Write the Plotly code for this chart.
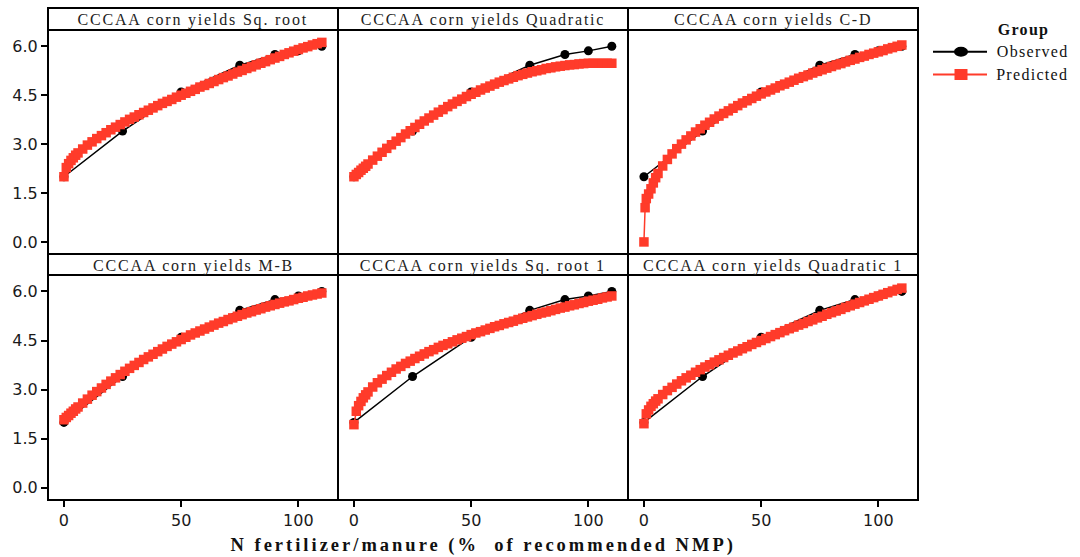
import plotly.graph_objects as go

# ---------------- data ----------------
PANEL_TITLES = [
    "CCCAA corn yields Sq. root",
    "CCCAA corn yields Quadratic",
    "CCCAA corn yields C-D",
    "CCCAA corn yields M-B",
    "CCCAA corn yields Sq. root 1",
    "CCCAA corn yields Quadratic 1",
]

OBS_X = [0, 25, 50, 75, 90, 100, 110]
OBS_Y = [2.0, 3.4, 4.6, 5.42, 5.75, 5.86, 6.0]

PRED_X = [0, 1, 2, 3, 4, 5, 6, 8, 10, 12, 14, 16, 18, 20, 22, 24, 26, 28, 30,
          32, 34, 36, 38, 40, 42, 44, 46, 48, 50, 52, 54, 56, 58, 60, 62, 64,
          66, 68, 70, 72, 74, 76, 78, 80, 82, 84, 86, 88, 90, 92, 94, 96, 98,
          100, 102, 104, 106, 108, 110]

CD_PRED_X = [0, 0.5, 1, 2, 3, 4, 5, 6, 8, 10, 12, 14, 16, 18, 20, 22, 24, 26,
             28, 30, 32, 34, 36, 38, 40, 42, 44, 46, 48, 50, 52, 54, 56, 58, 60,
             62, 64, 66, 68, 70, 72, 74, 76, 78, 80, 82, 84, 86, 88, 90, 92, 94,
             96, 98, 100, 102, 104, 106, 108, 110]

PRED_SQ = [2.00, 2.28, 2.40, 2.50, 2.58, 2.66, 2.73,
           2.85, 2.97, 3.07, 3.17, 3.26, 3.35, 3.44, 3.52, 3.60, 3.68,
           3.76, 3.83, 3.90, 3.97, 4.04, 4.11, 4.18, 4.25, 4.31, 4.37,
           4.44, 4.50, 4.56, 4.62, 4.68, 4.75, 4.80, 4.86, 4.92, 4.98,
           5.04, 5.09, 5.15, 5.21, 5.26, 5.32, 5.37, 5.43, 5.48, 5.53,
           5.59, 5.64, 5.69, 5.75, 5.80, 5.85, 5.90, 5.95, 5.99, 6.04,
           6.08, 6.12]

PRED_QUAD = [2.00, 2.07, 2.13, 2.20, 2.26, 2.32, 2.39,
             2.51, 2.63, 2.75, 2.87, 2.98, 3.09, 3.20, 3.31, 3.41, 3.51,
             3.61, 3.71, 3.80, 3.89, 3.98, 4.06, 4.15, 4.23, 4.31, 4.38,
             4.46, 4.53, 4.59, 4.66, 4.72, 4.78, 4.84, 4.90, 4.95, 5.00,
             5.05, 5.10, 5.14, 5.18, 5.22, 5.25, 5.28, 5.32, 5.34, 5.37,
             5.39, 5.41, 5.43, 5.44, 5.46, 5.47, 5.48, 5.48, 5.48, 5.48,
             5.48, 5.48]

PRED_CD = [0.00, 1.05, 1.33, 1.47, 1.63, 1.81, 1.97, 2.10,
           2.33, 2.53, 2.70, 2.86, 3.00, 3.13, 3.25, 3.37, 3.47, 3.58,
           3.67, 3.77, 3.86, 3.94, 4.02, 4.10, 4.18, 4.26, 4.33, 4.40,
           4.47, 4.54, 4.60, 4.66, 4.72, 4.79, 4.84, 4.90, 4.96, 5.02,
           5.07, 5.12, 5.18, 5.23, 5.28, 5.33, 5.38, 5.43, 5.47, 5.52,
           5.57, 5.61, 5.66, 5.70, 5.75, 5.79, 5.83, 5.87, 5.92, 5.96,
           6.00, 6.04]

PRED_MB = [2.08, 2.15, 2.21, 2.28, 2.34, 2.41, 2.47,
           2.59, 2.71, 2.83, 2.94, 3.05, 3.16, 3.26, 3.36, 3.46, 3.56,
           3.65, 3.74, 3.83, 3.92, 4.00, 4.08, 4.16, 4.24, 4.32, 4.39,
           4.46, 4.53, 4.60, 4.67, 4.73, 4.79, 4.85, 4.91, 4.97, 5.03,
           5.08, 5.14, 5.19, 5.24, 5.29, 5.34, 5.38, 5.43, 5.47, 5.52,
           5.56, 5.60, 5.64, 5.68, 5.71, 5.75, 5.79, 5.82, 5.86, 5.89,
           5.92, 5.95]

PRED_SQ1 = [1.93, 2.34, 2.51, 2.64, 2.75, 2.84, 2.93,
            3.08, 3.21, 3.32, 3.43, 3.53, 3.63, 3.71, 3.80, 3.87, 3.95,
            4.02, 4.09, 4.16, 4.22, 4.29, 4.35, 4.40, 4.46, 4.52, 4.57,
            4.62, 4.68, 4.73, 4.77, 4.82, 4.87, 4.92, 4.96, 5.01, 5.05,
            5.09, 5.14, 5.18, 5.22, 5.26, 5.30, 5.34, 5.37, 5.41, 5.45,
            5.49, 5.52, 5.56, 5.59, 5.63, 5.66, 5.70, 5.73, 5.76, 5.80,
            5.83, 5.86]

PRED_Q1 = [1.96, 2.26, 2.38, 2.49, 2.57, 2.65, 2.72,
           2.85, 2.97, 3.07, 3.17, 3.27, 3.36, 3.44, 3.53, 3.61, 3.69,
           3.76, 3.84, 3.91, 3.98, 4.05, 4.12, 4.18, 4.25, 4.31, 4.38,
           4.44, 4.50, 4.56, 4.62, 4.68, 4.74, 4.80, 4.86, 4.91, 4.97,
           5.02, 5.08, 5.13, 5.19, 5.24, 5.30, 5.35, 5.40, 5.45, 5.51,
           5.56, 5.61, 5.66, 5.71, 5.76, 5.81, 5.86, 5.91, 5.96, 6.01,
           6.06, 6.10]

PRED_XS = [PRED_X, PRED_X, CD_PRED_X, PRED_X, PRED_X, PRED_X]
PRED_YS = [PRED_SQ, PRED_QUAD, PRED_CD, PRED_MB, PRED_SQ1, PRED_Q1]

X_TICKS = [0, 50, 100]
Y_TICKS = [0.0, 1.5, 3.0, 4.5, 6.0]
Y_TICK_TEXT = ["0.0", "1.5", "3.0", "4.5", "6.0"]
X_TITLE = "N fertilizer/manure (%\u00a0 of recommended NMP)"
LEGEND_TITLE = "Group"
SERIES_NAMES = ["Observed", "Predicted"]

# ---------------- styling / layout ----------------
W, H = 1080, 557
RED = "#FF3B2A"
BLACK = "#000000"
SERIF = "Liberation Serif, Times New Roman, serif"
SANS = "DejaVu Sans, Verdana, sans-serif"


def fx(px):
    return px / W


def fy(py):
    return 1 - py / H


COLS = [(48, 338), (338, 628), (628, 918)]
ROWS = [dict(plot=(30, 254), strip=(8, 30)), dict(plot=(275, 500), strip=(254, 275))]

fig = go.Figure()
shapes = []
annotations = []
layout = {}

for i in range(6):
    r, c = divmod(i, 3)
    n = "" if i == 0 else str(i + 1)
    xl, xr = COLS[c]
    pt, pb = ROWS[r]["plot"]
    st, sb = ROWS[r]["strip"]

    layout["xaxis" + n] = dict(
        domain=[fx(xl), fx(xr)], range=[-6.8, 116.9], anchor="y" + n,
        showgrid=False, zeroline=False, showline=False,
        tickvals=X_TICKS, showticklabels=(r == 1),
        ticks="outside" if r == 1 else "", ticklen=6, tickwidth=2,
        tickcolor=BLACK, tickfont=dict(family=SANS, size=16, color="#1a1a1a"),
    )
    layout["yaxis" + n] = dict(
        domain=[fy(pb), fy(pt)], range=[-0.37, 6.5], anchor="x" + n,
        showgrid=False, zeroline=False, showline=False,
        tickvals=Y_TICKS, ticktext=Y_TICK_TEXT, showticklabels=(c == 0),
        ticks="outside" if c == 0 else "", ticklen=6, tickwidth=2,
        tickcolor=BLACK, tickfont=dict(family=SANS, size=16, color="#1a1a1a"),
    )

    # panel frame and strip
    shapes.append(dict(type="rect", xref="paper", yref="paper",
                       x0=fx(xl), x1=fx(xr), y0=fy(pb), y1=fy(pt),
                       line=dict(color=BLACK, width=2), layer="above"))
    shapes.append(dict(type="rect", xref="paper", yref="paper",
                       x0=fx(xl), x1=fx(xr), y0=fy(sb), y1=fy(st),
                       line=dict(color=BLACK, width=2), fillcolor="white",
                       layer="above"))
    annotations.append(dict(
        text=PANEL_TITLES[i], xref="paper", yref="paper",
        x=fx((xl + xr) / 2), y=fy((st + sb) / 2 + 1.2),
        xanchor="center", yanchor="middle", showarrow=False,
        font=dict(family=SERIF, size=16, color="#222222"),
    ))

    fig.add_trace(go.Scatter(
        x=OBS_X, y=OBS_Y, xaxis="x" + n, yaxis="y" + n,
        mode="lines+markers", name=SERIES_NAMES[0], showlegend=False,
        line=dict(color=BLACK, width=1.5),
        marker=dict(symbol="circle", size=9, color=BLACK),
    ))
    fig.add_trace(go.Scatter(
        x=PRED_XS[i], y=PRED_YS[i], xaxis="x" + n, yaxis="y" + n,
        mode="lines+markers", name=SERIES_NAMES[1], showlegend=False,
        line=dict(color=RED, width=1.5),
        marker=dict(symbol="square", size=9.5, color=RED),
    ))

# x-axis title
annotations.append(dict(
    text="<b>" + X_TITLE + "</b>", xref="paper", yref="paper",
    x=fx(483), y=fy(545), xanchor="center", yanchor="middle", showarrow=False,
    font=dict(family=SERIF, size=18.5, color="#111111"),
))

# legend (drawn manually to match layout)
annotations.append(dict(
    text="<b>" + LEGEND_TITLE + "</b>", xref="paper", yref="paper",
    x=fx(1023), y=fy(30), xanchor="center", yanchor="middle", showarrow=False,
    font=dict(family=SERIF, size=16, color="#111111"),
))
LEG_Y = [51.7, 74.5]
LEG_COL = [BLACK, RED]
for k in range(2):
    yy = LEG_Y[k]
    shapes.append(dict(type="line", xref="paper", yref="paper",
                       x0=fx(933), x1=fx(987), y0=fy(yy), y1=fy(yy),
                       line=dict(color=LEG_COL[k], width=2)))
    shapes.append(dict(
        type="circle" if k == 0 else "rect", xref="paper", yref="paper",
        xsizemode="pixel", ysizemode="pixel",
        xanchor=fx(961), yanchor=fy(yy),
        x0=-7 if k == 0 else -6.5, x1=7 if k == 0 else 6.5,
        y0=-5 if k == 0 else -5.5, y1=5 if k == 0 else 5.5,
        fillcolor=LEG_COL[k], line=dict(color=LEG_COL[k], width=0)))
    annotations.append(dict(
        text=SERIES_NAMES[k], xref="paper", yref="paper",
        x=fx(1032), y=fy(yy), xanchor="center", yanchor="middle",
        showarrow=False, font=dict(family=SERIF, size=16, color="#111111"),
    ))

fig.update_layout(
    width=W, height=H, margin=dict(l=0, r=0, t=0, b=0),
    paper_bgcolor="white", plot_bgcolor="white",
    showlegend=False, shapes=shapes, annotations=annotations,
    **layout,
)

POST = """
var gd = document.getElementById('{plot_id}');
gd.querySelectorAll('.annotation-text').forEach(function(t){
  var s = t.textContent;
  if (s.indexOf('fertilizer') >= 0) { t.style.letterSpacing = '3px'; }
  else if (s.indexOf('CCCAA') >= 0) { t.style.letterSpacing = '1.8px'; }
  else { t.style.letterSpacing = '1.3px'; }
});
"""

fig.write_html("out.html", post_script=POST)
